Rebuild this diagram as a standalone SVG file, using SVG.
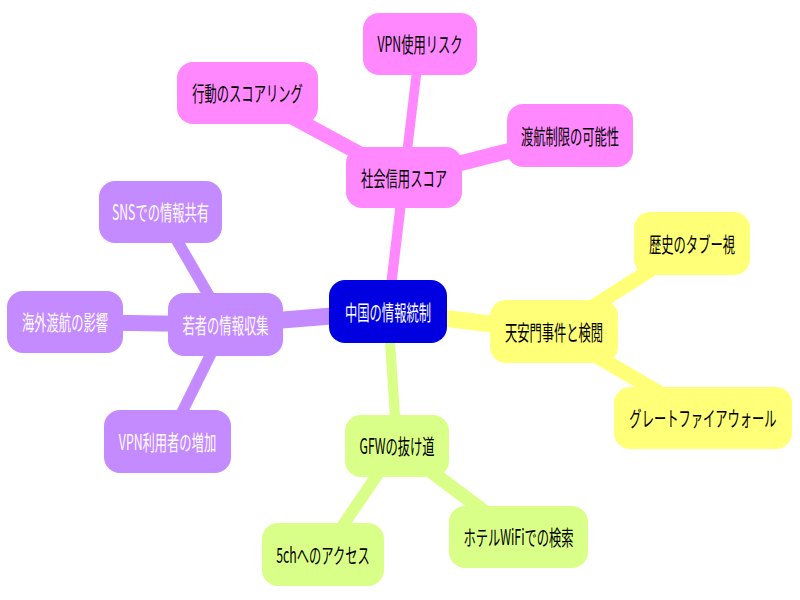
<svg xmlns="http://www.w3.org/2000/svg" width="800" height="600" viewBox="0 0 800 600">
<style>
.n text{font-family:"Noto Sans CJK JP","Noto Sans CJK SC",sans-serif;font-size:21px;text-anchor:middle;fill:#000}
.n rect{rx:16px;ry:16px}
.root rect{fill:#0000e0}
.root text{fill:#fff}
.pink rect{fill:#ff88ff}
.purple rect{fill:#c48aff}
.purple text{fill:#fff}
.yellow rect{fill:#ffff78}
.green rect{fill:#daff88}
#connectors line{fill:none}
.cp{stroke:#ff88ff}
.cu{stroke:#c48aff}
.cy{stroke:#ffff78}
.cg{stroke:#daff88}
.e0{stroke-width:17}
.e1{stroke-width:16}
</style>
<rect width="800" height="600" fill="#fff"/>
<g id="connectors" transform="scale(0.59 1)">
<line class="cp e0" x1="657.6" y1="311.5" x2="684.7" y2="177.5"/>
<line class="cp e1" x1="684.7" y1="177.5" x2="711.9" y2="44"/>
<line class="cp e1" x1="684.7" y1="177.5" x2="419.5" y2="93"/>
<line class="cp e1" x1="684.7" y1="177.5" x2="966.1" y2="135.5"/>
<line class="cu e0" x1="657.6" y1="311.5" x2="382.2" y2="324.5"/>
<line class="cu e1" x1="382.2" y1="324.5" x2="272" y2="212"/>
<line class="cu e1" x1="382.2" y1="324.5" x2="110.2" y2="322"/>
<line class="cu e1" x1="382.2" y1="324.5" x2="283.9" y2="441.5"/>
<line class="cy e0" x1="657.6" y1="311.5" x2="939" y2="331.5"/>
<line class="cy e1" x1="939" y1="331.5" x2="1172.9" y2="243.5"/>
<line class="cy e1" x1="939" y1="331.5" x2="1191.5" y2="418"/>
<line class="cg e0" x1="657.6" y1="311.5" x2="672.9" y2="446"/>
<line class="cg e1" x1="672.9" y1="446" x2="547.5" y2="554.5"/>
<line class="cg e1" x1="672.9" y1="446" x2="878.8" y2="537"/>
</g>
<g id="root" class="n root"><rect x="329" y="280" width="118" height="63"/><text transform="translate(388 319.5) scale(0.585 1)">中国の情報統制</text></g>
<g id="social" class="n pink"><rect x="346" y="147" width="116" height="61"/><text transform="translate(404 185.5) scale(0.585 1)">社会信用スコア</text></g>
<g id="vpnrisk" class="n pink"><rect x="363" y="13" width="114" height="62"/><text transform="translate(420 52) scale(0.585 1)">VPN使用リスク</text></g>
<g id="scoring" class="n pink"><rect x="177" y="62" width="141" height="62"/><text transform="translate(247.5 101) scale(0.585 1)">行動のスコアリング</text></g>
<g id="travel" class="n pink"><rect x="507" y="104" width="126" height="63"/><text transform="translate(570 143.5) scale(0.585 1)">渡航制限の可能性</text></g>
<g id="youth" class="n purple"><rect x="168" y="293" width="115" height="63"/><text transform="translate(225.5 332.5) scale(0.585 1)">若者の情報収集</text></g>
<g id="sns" class="n purple"><rect x="99" y="181" width="123" height="62"/><text transform="translate(160.5 220) scale(0.585 1)">SNSでの情報共有</text></g>
<g id="abroad" class="n purple"><rect x="7" y="291" width="116" height="62"/><text transform="translate(65 330) scale(0.585 1)">海外渡航の影響</text></g>
<g id="vpnusers" class="n purple"><rect x="104" y="410" width="127" height="63"/><text transform="translate(167.5 449.5) scale(0.585 1)">VPN利用者の増加</text></g>
<g id="tiananmen" class="n yellow"><rect x="490" y="300" width="128" height="63"/><text transform="translate(554 339.5) scale(0.585 1)">天安門事件と検閲</text></g>
<g id="taboo" class="n yellow"><rect x="634" y="212" width="116" height="63"/><text transform="translate(692 251.5) scale(0.585 1)">歴史のタブー視</text></g>
<g id="gfwall" class="n yellow"><rect x="614" y="387" width="178" height="62"/><text transform="translate(703 426) scale(0.585 1)">グレートファイアウォール</text></g>
<g id="gfw" class="n green"><rect x="345" y="415" width="104" height="62"/><text transform="translate(397 454) scale(0.585 1)">GFWの抜け道</text></g>
<g id="fivech" class="n green"><rect x="262" y="523" width="122" height="63"/><text transform="translate(323 562.5) scale(0.585 1)">5chへのアクセス</text></g>
<g id="hotel" class="n green"><rect x="449" y="506" width="139" height="62"/><text transform="translate(518.5 545) scale(0.585 1)">ホテルWiFiでの検索</text></g>
</svg>
